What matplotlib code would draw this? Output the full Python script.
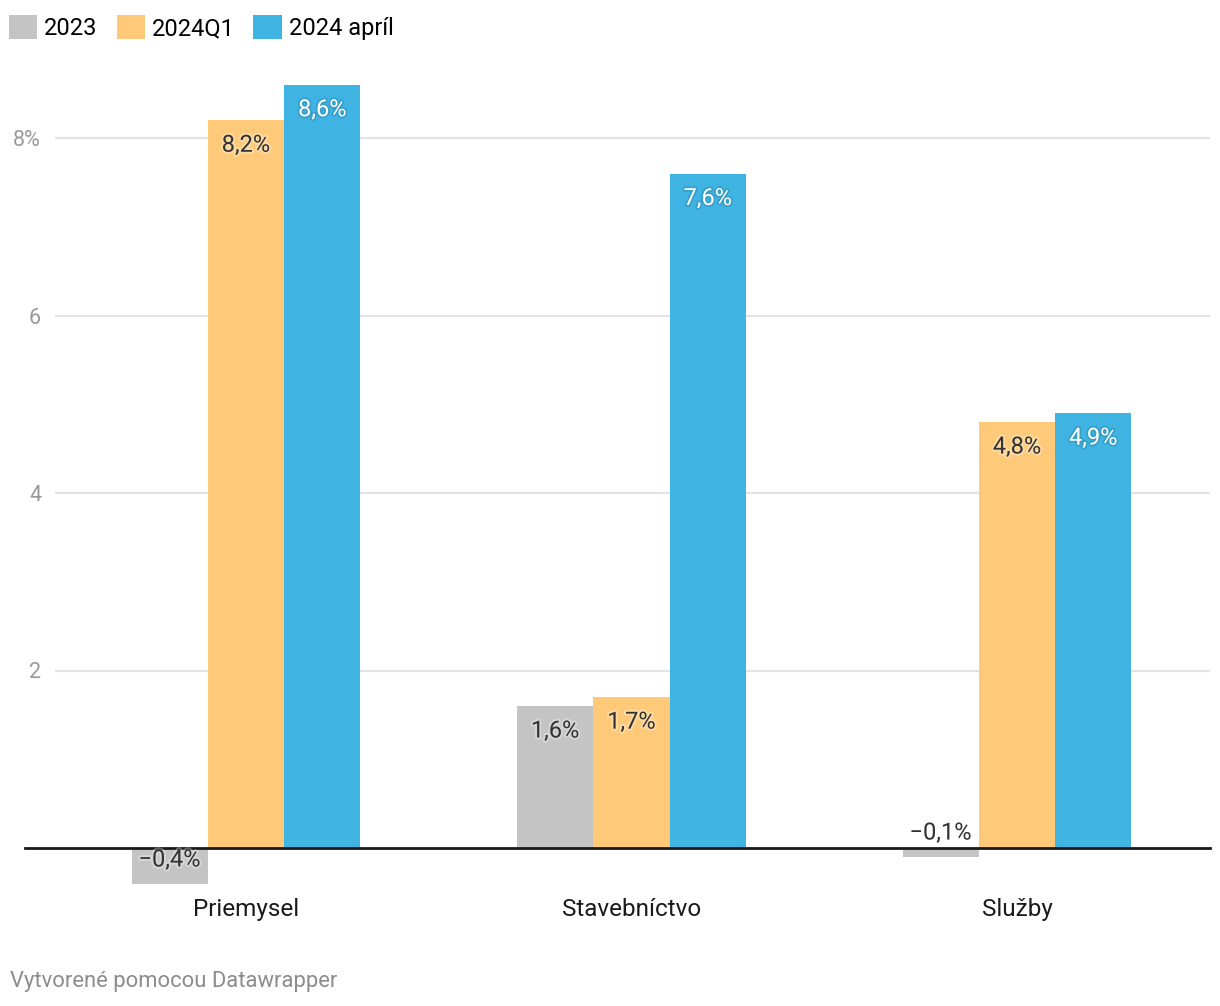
import numpy as np
import matplotlib
matplotlib.use("Agg")
import matplotlib.pyplot as plt
import matplotlib.patheffects as pe
from matplotlib.patches import Patch

plt.rcParams['font.family'] = ['Roboto', 'DejaVu Sans']

categories = ['Priemysel', 'Stavebníctvo', 'Služby']
series = ['2023', '2024Q1', '2024 apríl']
values = {
    '2023': [-0.4, 1.6, -0.1],
    '2024Q1': [8.2, 1.7, 4.8],
    '2024 apríl': [8.6, 7.6, 4.9],
}
colors = {'2023': '#c4c4c4', '2024Q1': '#fec978', '2024 apríl': '#3fb4e2'}
yticks = [2, 4, 6, 8]
ytick_labels = ['2', '4', '6', '8%']

W, H = 1220, 1006
fig = plt.figure(figsize=(W / 100, H / 100), dpi=100)
ax_l, ax_r, ax_t, ax_b = 55, 1210, 60, 885
ax = fig.add_axes([ax_l / W, 1 - ax_b / H, (ax_r - ax_l) / W, (ax_b - ax_t) / H])

px_per_unit = 88.75
zero_px = 848
ax.set_ylim(-(ax_b - zero_px) / px_per_unit, (zero_px - ax_t) / px_per_unit)
ax.set_xlim(-191 / 385.5, 2 + 193 / 385.5)

for s in ax.spines.values():
    s.set_visible(False)

# gridlines + zero line (zero line sticks out to the left)
for yt in yticks:
    ax.axhline(yt, color='#e3e3e3', lw=1.5, zorder=0)
ax.axhline(0, xmin=-30 / (ax_r - ax_l), xmax=1, color='#1a1a1a', lw=2, zorder=3, clip_on=False)

ax.set_yticks(yticks)
ax.set_yticklabels(ytick_labels)
ax.tick_params(axis='y', length=0, pad=10, labelsize=15.5, labelcolor='#9a9a9a')

x = np.arange(len(categories))
bw = 0.198
offsets = [-bw, 0, bw]
halo_dark = [pe.withStroke(linewidth=3, foreground='white', alpha=0.3)]
halo_light = [pe.withStroke(linewidth=2.5, foreground='#1f6f8f', alpha=0.3)]

for name, off in zip(series, offsets):
    vals = values[name]
    ax.bar(x + off, vals, width=bw, color=colors[name], zorder=2)
    for xi, v in zip(x, vals):
        lab = ('−' if v < 0 else '') + f'{abs(v):.1f}'.replace('.', ',') + '%'
        if name == '2024 apríl':
            tc, eff = 'white', halo_light
        else:
            tc, eff = '#333333', halo_dark
        if v >= 1:
            dy = -18
        elif v <= -0.3:
            dy = -8.6
        else:
            dy = 10.8
        ax.annotate(lab, (xi + off, v if v > 0 else 0), xytext=(0, dy),
                    textcoords='offset points', ha='center', va='center',
                    fontsize=17, color=tc, path_effects=eff, zorder=4)

ax.set_xticks(x)
ax.set_xticklabels(categories)
ax.tick_params(axis='x', length=0, pad=9.5, labelsize=17.5, labelcolor='#1a1a1a')

handles = [Patch(facecolor=colors[s], edgecolor='none') for s in series]
fig.legend(handles, series, loc='upper left', bbox_to_anchor=(2 / W, 1 - 8 / H),
           ncol=3, frameon=False, fontsize=17, handlelength=1.19, handleheight=1.19,
           handletextpad=0.3, columnspacing=0.8, borderaxespad=0, borderpad=0.3)

fig.text(10 / W, 1 - 981 / H, 'Vytvorené pomocou Datawrapper', fontsize=15.8,
         color='#8c8c8c', va='center', ha='left')

fig.savefig('out.png', dpi=100, facecolor='white')
